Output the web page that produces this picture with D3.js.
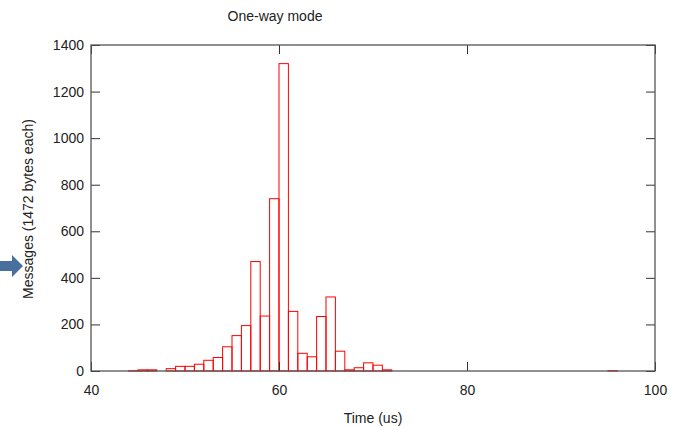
<!DOCTYPE html>
<html lang="en">
<head>
<meta charset="UTF-8">
<title>One-way mode</title>
<style>
  body { margin: 0; background: #fff; font-family: 'Liberation Sans', Arial, sans-serif; }
  svg text { fill: #222; font-size: 14px; }
</style>
</head>
<body>
<div id="chart"></div>
<script src="https://d3js.org/d3.v7.min.js"></script>
<script>
// histogram bins: left edge (us) and message count
var binStart = [44, 45, 46, 48, 49, 50, 51, 52, 53, 54, 55, 56, 57, 58, 59, 60, 61, 62, 63, 64, 65, 66, 67, 68, 69, 70, 71, 95];
var counts   = [1, 5, 5, 10, 20, 20, 29, 46, 58, 104, 152, 195, 470, 236, 740, 1320, 256, 76, 61, 234, 318, 85, 5, 14, 35, 25, 5, 1];
var xTicks = [40, 60, 80, 100];
var yTicks = [0, 200, 400, 600, 800, 1000, 1200, 1400];

var w = 675, h = 427;
var margin = {left: 91, right: 20, top: 45, bottom: 56};

var svg = d3.select("#chart").append("svg")
    .attr("width", w)
    .attr("height", h);

var x = d3.scaleLinear().domain([40, 100]).range([margin.left, w - margin.right]);
var y = d3.scaleLinear().domain([0, 1400]).range([h - margin.bottom, margin.top]);

// bars (outline only, like gnuplot boxes)
svg.append("g").selectAll("rect")
    .data(binStart)
    .enter().append("rect")
    .attr("x", function(d) { return x(d); })
    .attr("y", function(d, i) { return y(counts[i]); })
    .attr("width", function(d) { return x(d + 1) - x(d); })
    .attr("height", function(d, i) { return y(0) - y(counts[i]); })
    .attr("fill", "none")
    .attr("stroke", "#ff0000")
    .attr("stroke-width", 1);

// axes with inward ticks
var tickLen = 9;
var axisColor = "#555";
var fmt = d3.format("d");

svg.append("g")
    .attr("transform", "translate(0," + y(0) + ")")
    .call(d3.axisBottom(x).tickValues(xTicks).tickFormat(fmt).tickSize(-tickLen).tickPadding(14))
    .call(function(g) {
        g.select(".domain").remove();
        g.selectAll(".tick line").attr("stroke", "#333");
        g.selectAll(".tick text").style("font-size", "14px").attr("fill", "#222");
    });

svg.append("g")
    .attr("transform", "translate(0," + y(1400) + ")")
    .call(d3.axisTop(x).tickValues(xTicks).tickSize(-tickLen).tickFormat(""))
    .call(function(g) {
        g.select(".domain").remove();
        g.selectAll(".tick line").attr("stroke", "#333");
    });

svg.append("g")
    .attr("transform", "translate(" + x(40) + ",0)")
    .call(d3.axisLeft(y).tickValues(yTicks).tickFormat(fmt).tickSize(-tickLen).tickPadding(7))
    .call(function(g) {
        g.select(".domain").remove();
        g.selectAll(".tick line").attr("stroke", "#333");
        g.selectAll(".tick text").style("font-size", "14px").attr("fill", "#222");
    });

svg.append("g")
    .attr("transform", "translate(" + x(100) + ",0)")
    .call(d3.axisRight(y).tickValues(yTicks).tickSize(-tickLen).tickFormat(""))
    .call(function(g) {
        g.select(".domain").remove();
        g.selectAll(".tick line").attr("stroke", "#333");
    });

// plot border
svg.append("rect")
    .attr("x", x(40))
    .attr("y", y(1400))
    .attr("width", x(100) - x(40))
    .attr("height", y(0) - y(1400))
    .attr("fill", "none")
    .attr("stroke", axisColor)
    .attr("stroke-width", 1.3);

// title and axis labels
svg.append("text")
    .attr("x", 275)
    .attr("y", 21)
    .attr("text-anchor", "middle")
    .text("One-way mode");

svg.append("text")
    .attr("x", 373)
    .attr("y", 423)
    .attr("text-anchor", "middle")
    .text("Time (us)");

svg.append("text")
    .attr("transform", "translate(33,209) rotate(-90)")
    .attr("text-anchor", "middle")
    .text("Messages (1472 bytes each)");

// blue arrow pointing at the axis label
svg.append("path")
    .attr("d", "M0,261 L12,261 L12,255 L23,266 L12,277 L12,271 L0,271 Z")
    .attr("fill", "#47709e");
</script>
</body>
</html>
